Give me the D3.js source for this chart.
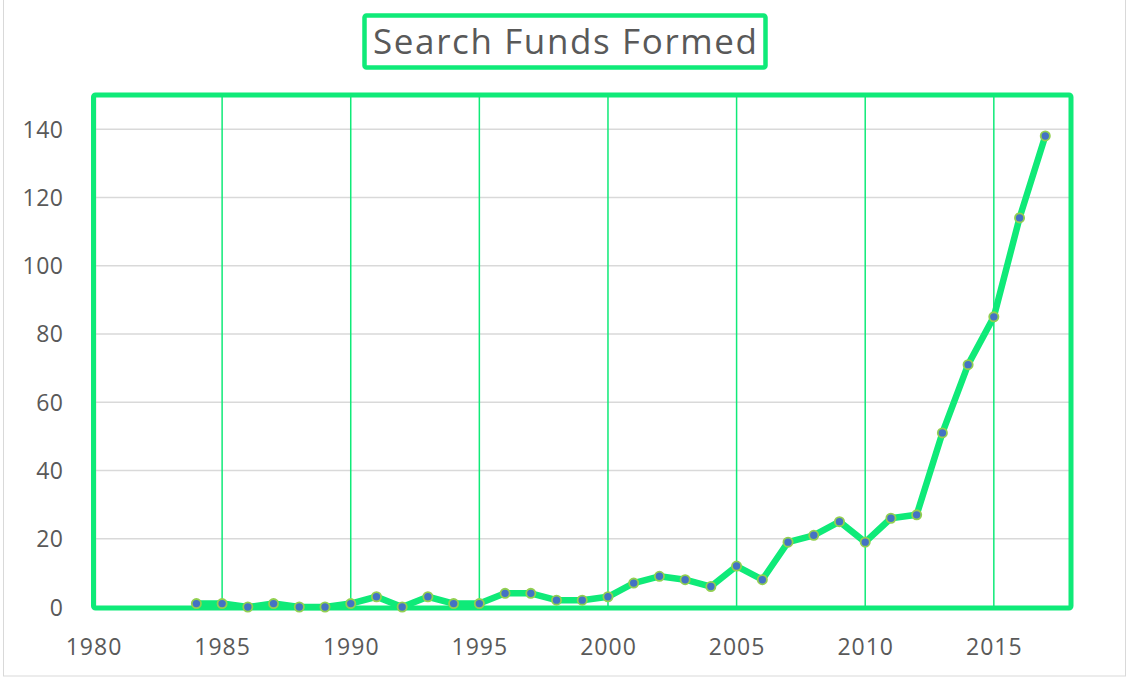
<!DOCTYPE html>
<html><head><meta charset="utf-8">
<script src="https://cdn.jsdelivr.net/npm/d3@7"></script>
<style>body{margin:0;background:#fff;} svg{display:block;font-family:"Open Sans",Lato,sans-serif;}</style>
</head><body>
<script>
const years = [1984,1985,1986,1987,1988,1989,1990,1991,1992,1993,1994,1995,1996,1997,1998,1999,2000,2001,2002,2003,2004,2005,2006,2007,2008,2009,2010,2011,2012,2013,2014,2015,2016,2017];
const funds = [1,1,0,1,0,0,1,3,0,3,1,1,4,4,2,2,3,7,9,8,6,12,8,19,21,25,19,26,27,51,71,85,114,138];
const xTicks = [1980,1985,1990,1995,2000,2005,2010,2015];
const yTicks = [0,20,40,60,80,100,120,140];
const title = "Search Funds Formed";

const W=1127,H=677;
const svg=d3.select("body").append("svg").attr("width",W).attr("height",H);
const green="#0fea78", grey="#d9d9d9", text="#595959";
svg.append("rect").attr("x",3.5).attr("y",-2).attr("width",1122).attr("height",678).attr("fill","none").attr("stroke",grey).attr("stroke-width",1);

const L=93.5,R=1071,T=95,B=607;
const x=d3.scaleLinear().domain([1980,2018]).range([L,R]);
const y=d3.scaleLinear().domain([0,150]).range([B,T]);

svg.append("g").selectAll("line").data(yTicks.filter(d=>d>0)).join("line")
  .attr("x1",L).attr("x2",R).attr("y1",d=>y(d)).attr("y2",d=>y(d)).attr("stroke",grey).attr("stroke-width",1.5);
svg.append("g").selectAll("line").data(xTicks.filter(d=>d>1980)).join("line")
  .attr("x1",d=>x(d)).attr("x2",d=>x(d)).attr("y1",T).attr("y2",B).attr("stroke",green).attr("stroke-width",1.5);
svg.append("line").attr("x1",L+2).attr("x2",L+2).attr("y1",T).attr("y2",B).attr("stroke","#bfbfbf").attr("stroke-width",1.5);
svg.append("line").attr("x1",L).attr("x2",R).attr("y1",B).attr("y2",B).attr("stroke","#bfbfbf").attr("stroke-width",1.5);
svg.append("rect").attr("x",L).attr("y",T).attr("width",R-L).attr("height",B+1-T).attr("rx",2)
  .attr("fill","none").attr("stroke",green).attr("stroke-width",5);

const yAxis=d3.axisLeft(y).tickValues(yTicks).tickSize(0).tickPadding(0).tickFormat(d3.format("d"));
const gy=svg.append("g").attr("transform",`translate(${L-30},0)`).call(yAxis);
gy.select(".domain").remove();
gy.selectAll("text").attr("font-size",23).attr("fill",text).attr("font-family","'Open Sans',sans-serif")
  .attr("font-weight",400).attr("letter-spacing",0.5).attr("dy","0.35em");
const xAxis=d3.axisBottom(x).tickValues(xTicks).tickSize(0).tickPadding(0).tickFormat(d3.format("d"));
const gx=svg.append("g").attr("transform",`translate(0,${B+32})`).call(xAxis);
gx.select(".domain").remove();
gx.selectAll("text").attr("font-size",23).attr("fill",text).attr("font-family","'Open Sans',sans-serif")
  .attr("font-weight",400).attr("letter-spacing",1);

const data=years.map((yr,i)=>({yr,v:funds[i]}));
svg.append("path").datum(data).attr("fill","none").attr("stroke",green).attr("stroke-width",6.5)
  .attr("stroke-linejoin","round").attr("d",d3.line().x(d=>x(d.yr)).y(d=>y(d.v)));
svg.append("g").selectAll("circle").data(data).join("circle")
  .attr("cx",d=>x(d.yr)).attr("cy",d=>y(d.v)).attr("r",4.6)
  .attr("fill","#4472c4").attr("stroke","#92d050").attr("stroke-width",1.8);

svg.append("text").attr("x",565).attr("y",54).attr("text-anchor","middle")
  .attr("font-size",35).attr("font-weight",400).attr("fill",text)
  .attr("textLength",384).attr("lengthAdjust","spacing").text(title);
svg.append("rect").attr("x",364.5).attr("y",15.5).attr("width",401).attr("height",52).attr("rx",2)
  .attr("fill","none").attr("stroke",green).attr("stroke-width",4.5);
</script>
</body></html>
